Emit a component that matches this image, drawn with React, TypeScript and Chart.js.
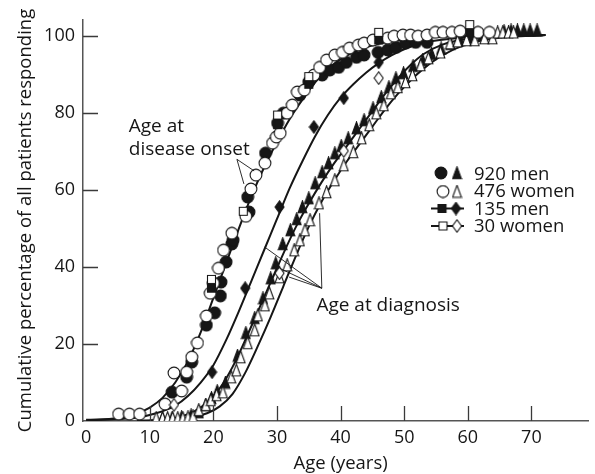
import React, { useEffect, useRef } from "react";
import { Chart, registerables } from "chart.js";

Chart.register(...registerables);

// ---------------- data ----------------
const xTickValues = [0, 10, 20, 30, 40, 50, 60, 70];
const yTickValues = [0, 20, 40, 60, 80, 100];

// Age at onset, 920 men (filled circles)
const men920Onset: [number, number][] = [
  [13.5, 7.5], [15.8, 11.4], [16.6, 15.3], [18.9, 24.9], [20.2, 28.1], [21.1, 32.5], [21.2, 36.1],
  [22.0, 41.3], [22.9, 46.0], [23.1, 47.0], [25.4, 58.2], [25.6, 54.3], [28.2, 69.6], [30.1, 77.4],
  [31.0, 80.0], [33.6, 84.7], [35.0, 88.1], [37.1, 89.9], [38.3, 91.2], [39.7, 91.9], [40.9, 93.2],
  [42.5, 94.5], [43.7, 95.1], [45.9, 95.8], [47.4, 96.4], [48.7, 97.1], [50.2, 98.2], [51.8, 98.4],
  [53.6, 98.4],
];
// Age at onset, 476 women (open circles)
const women476Onset: [number, number][] = [
  [5.1, 1.8], [6.8, 1.8], [8.4, 1.8], [12.4, 4.4], [13.8, 12.5], [15.0, 7.8], [15.8, 12.7], [16.6, 16.6],
  [17.5, 20.3], [18.9, 27.3], [19.5, 33.2], [20.0, 35.8], [20.8, 39.7], [21.6, 44.4], [22.9, 48.8],
  [25.1, 53.2], [25.9, 60.3], [26.7, 63.9], [28.1, 67.0], [29.3, 72.2], [29.9, 73.8], [30.5, 74.8],
  [31.6, 80.0], [32.4, 82.1], [33.2, 85.5], [34.3, 86.0], [35.8, 89.9], [36.7, 91.9], [37.8, 93.8],
  [39.1, 95.1], [40.3, 95.8], [41.4, 96.9], [42.8, 97.7], [43.7, 98.2], [45.1, 99.0], [47.4, 99.5],
  [48.4, 100.0], [49.8, 100.3], [51.0, 100.3], [52.2, 100.0], [53.6, 100.3], [54.9, 101.0], [56.1, 101.0],
  [57.5, 101.0], [58.8, 101.3], [61.6, 101.0], [63.4, 101.0],
];
// Age at diagnosis, 920 men (filled triangles)
const men920Diag: [number, number][] = [
  [12.0, 0.8], [13.5, 0.8], [15.0, 1.0], [16.5, 1.5], [17.7, 2.3], [18.8, 4.2], [19.7, 6.0], [20.6, 7.8],
  [21.9, 10.0], [23.8, 17.0], [25.1, 22.9], [26.5, 26.8], [27.8, 31.9], [29.0, 37.1], [29.8, 41.0],
  [30.9, 46.0], [32.1, 49.6], [33.1, 52.5], [34.0, 55.6], [35.0, 57.9], [36.0, 61.8], [37.1, 64.7],
  [38.1, 67.0], [39.1, 69.6], [40.1, 71.5], [41.2, 73.5], [42.5, 76.1], [43.7, 78.2], [45.1, 81.3],
  [46.4, 84.2], [47.6, 86.8], [48.7, 89.1], [49.9, 90.4], [51.4, 92.3], [52.9, 93.8], [54.3, 95.4],
  [55.8, 96.8], [57.3, 98.0], [58.8, 99.0], [60.5, 99.5], [62.2, 100.2], [65.7, 101.3], [66.8, 101.5],
  [67.8, 101.5], [68.8, 101.5], [69.8, 101.5], [70.9, 101.5],
];
// Age at diagnosis, 476 women (open triangles)
const women476Diag: [number, number][] = [
  [11.0, 0.8], [12.0, 0.8], [12.8, 0.8], [13.6, 0.8], [14.4, 0.8], [15.2, 0.8], [16.0, 1.0], [16.8, 1.2],
  [17.7, 2.9], [18.8, 4.2], [19.6, 5.5], [20.5, 6.8], [21.5, 7.5], [22.8, 11.4], [23.6, 13.2], [24.3, 16.6],
  [25.4, 20.3], [26.5, 23.6], [27.0, 27.5], [28.1, 30.1], [28.8, 33.2], [30.4, 37.4], [31.6, 40.5],
  [32.7, 44.4], [33.6, 47.0], [34.4, 49.6], [35.2, 52.2], [36.6, 56.6], [37.8, 59.5], [39.1, 62.6],
  [40.5, 66.5], [42.0, 69.9], [43.3, 73.5], [44.5, 76.9], [45.6, 80.0], [46.8, 82.1], [47.9, 85.2],
  [49.0, 86.8], [50.2, 88.1], [51.3, 89.9], [52.6, 92.5], [53.8, 94.3], [55.7, 95.8], [57.2, 98.2],
  [58.4, 98.7], [59.8, 99.0], [61.1, 99.0], [62.6, 99.5], [63.9, 99.5], [64.7, 101.0], [65.5, 101.0],
  [66.4, 101.0], [67.2, 101.0],
];
// 135 men: onset (filled squares) and diagnosis (filled diamonds)
const men135Onset: [number, number][] = [[19.7, 34.5], [30.1, 77.0], [35.0, 87.5], [46.0, 99.0], [60.3, 101.0]];
const men135Diag: [number, number][] = [[19.8, 12.7], [25.0, 34.5], [30.4, 55.6], [35.8, 76.4], [40.5, 83.9], [46.0, 93.2]];
// 30 women: onset (open squares) and diagnosis (open diamonds)
const women30Onset: [number, number][] = [[19.7, 36.8], [24.7, 54.5], [30.1, 79.5], [35.0, 89.5], [46.0, 101.0], [60.3, 103.0]];
const women30Diag: [number, number][] = [[13.8, 4.2], [30.4, 38.4], [40.5, 70.2], [46.0, 89.1]];

// fitted curves
const curveOnset: [number, number][] = [
  [0, 0.3], [5, 0.8], [8, 2], [10, 3.5], [12, 6], [14, 10], [16, 15.5], [18, 23], [20, 32], [22, 41],
  [24, 50], [26, 58.5], [28, 66], [30, 72.5], [32, 78.5], [34, 83.5], [36, 88], [38, 91.5], [40, 94],
  [43, 96.5], [46, 98], [50, 99.2], [55, 99.8], [72.2, 100.3],
];
const curve135Men: [number, number][] = [
  [0, 0.2], [5, 0.5], [8, 0.9], [11, 2], [14, 4], [16, 6.5], [18, 10], [20, 14.5], [22, 21], [24, 28.5],
  [26, 36.5], [28, 44.5], [30, 52.5], [32, 60.5], [34, 67.5], [36, 74], [38, 79.5], [40, 84], [42, 87.5],
  [44, 90.5], [46, 93], [48, 95], [50, 96.6], [53, 98.3], [60, 99.7], [72.2, 100.3],
];
const curveDiagMen: [number, number][] = [
  [8, 0.1], [12, 0.3], [15, 1.2], [17, 2.5], [19, 4.8], [21, 8.5], [23, 14], [25, 21], [27, 28.5],
  [29, 36], [31, 43.5], [33, 50.5], [35, 56.5], [37, 62], [39, 67], [41, 71.5], [43, 76], [45, 80.5],
  [47, 85], [49, 89], [51, 92.5], [53, 95.3], [56, 97.8], [60, 99.3], [65, 99.9], [72.2, 100.3],
];
const curveDiagWomen: [number, number][] = [
  [10, 0.1], [16, 0.8], [19, 2], [21, 3.8], [23, 7], [25, 12.5], [27, 19.5], [29, 27], [31, 35], [33, 43],
  [35, 50.5], [37, 57], [39, 62.5], [41, 67.5], [43, 72], [45, 76.5], [47, 81], [49, 85], [51, 88.5],
  [53, 91.5], [56, 95], [60, 98], [65, 99.6], [72.2, 100.3],
];

// annotation text and pointer lines (data units)
const onsetLabelLines = ["Age at", "disease onset"];
const onsetLabelAt: [number, number][] = [[6.7, 75.1], [6.7, 69.1]];
const onsetPointerFrom: [number, number] = [23.7, 68.0];
const onsetPointerTo: [number, number][] = [[24.8, 61.6], [26.4, 65.0]];
const diagLabel = "Age at diagnosis";
const diagLabelAt: [number, number] = [36.2, 28.6];
const diagPointerFrom: [number, number] = [37.05, 34.5];
const diagPointerTo: [number, number][] = [[28.06, 45.2], [30.4, 39.7], [31.9, 37.4], [36.7, 54.0]];

const xTitle = "Age (years)";
const xTitleCenter = 40;
const legendLabels = ["920 men", "476 women", "135 men", "30 women"];

// ---------------- styling ----------------
const FONT = "'Open Sans', sans-serif";
const INK = "#161616";

type Shape = "circle" | "triangle" | "square" | "diamond";
function makeMarker(shape: Shape, filled: boolean): HTMLCanvasElement {
  const c = document.createElement("canvas");
  const dims: Record<Shape, [number, number]> = {
    circle: [14, 14],
    triangle: [11, 14],
    square: [11, 11],
    diamond: [11, 14],
  };
  const [w, h] = dims[shape];
  c.width = w;
  c.height = h;
  const g = c.getContext("2d")!;
  g.lineWidth = 1.1;
  g.strokeStyle = INK;
  g.fillStyle = filled ? INK : "#ffffff";
  g.beginPath();
  if (shape === "circle") {
    g.arc(7, 7, 5.9, 0, Math.PI * 2);
  } else if (shape === "triangle") {
    g.moveTo(5.5, 0.8);
    g.lineTo(9.9, 12.8);
    g.lineTo(1.1, 12.8);
    g.closePath();
  } else if (shape === "square") {
    g.rect(1.5, 1.5, 8, 8);
  } else {
    g.moveTo(5.5, 0.8);
    g.lineTo(10, 7);
    g.lineTo(5.5, 13.2);
    g.lineTo(1, 7);
    g.closePath();
  }
  g.fill();
  g.stroke();
  return c;
}

const toXY = (arr: [number, number][]) => arr.map(([x, y]) => ({ x, y }));

export default function App() {
  const ref = useRef<HTMLCanvasElement>(null);

  useEffect(() => {
    document.body.style.margin = "0";
    const m = {
      circF: makeMarker("circle", true),
      circO: makeMarker("circle", false),
      triF: makeMarker("triangle", true),
      triO: makeMarker("triangle", false),
      sqF: makeMarker("square", true),
      sqO: makeMarker("square", false),
      diaF: makeMarker("diamond", true),
      diaO: makeMarker("diamond", false),
    };

    const pts = (label: string, data: [number, number][], style: HTMLCanvasElement) => ({
      type: "scatter" as const,
      label,
      data: toXY(data),
      pointStyle: style,
      pointRadius: 6,
      showLine: false,
    });
    const line = (label: string, data: [number, number][]) => ({
      type: "line" as const,
      label,
      data: toXY(data),
      borderColor: INK,
      borderWidth: 2,
      pointRadius: 0,
      fill: false,
      cubicInterpolationMode: "monotone" as const,
      showLine: true,
    });

    const overlay = {
      id: "overlay",
      afterDraw(chart: any) {
        const ctx = chart.ctx as CanvasRenderingContext2D;
        const xs = chart.scales.x;
        const ys = chart.scales.y;
        const ca = chart.chartArea;
        const X = (v: number) => xs.getPixelForValue(v);
        const Y = (v: number) => ys.getPixelForValue(v);
        ctx.save();
        // inward ticks
        ctx.strokeStyle = "#3a3a3a";
        ctx.lineWidth = 1.3;
        ctx.beginPath();
        xTickValues.forEach((v) => {
          if (v === 0) return;
          const px = Math.round(X(v)) + 0.5;
          ctx.moveTo(px, ca.bottom);
          ctx.lineTo(px, ca.bottom - 15);
        });
        yTickValues.forEach((v) => {
          if (v === 0) return;
          const py = Math.round(Y(v)) + 0.5;
          ctx.moveTo(ca.left, py);
          ctx.lineTo(ca.left + 15, py);
        });
        ctx.stroke();

        // pointer lines
        ctx.strokeStyle = INK;
        ctx.lineWidth = 0.9;
        ctx.beginPath();
        onsetPointerTo.forEach(([a, b]) => {
          ctx.moveTo(X(onsetPointerFrom[0]), Y(onsetPointerFrom[1]));
          ctx.lineTo(X(a), Y(b));
        });
        diagPointerTo.forEach(([a, b]) => {
          ctx.moveTo(X(diagPointerFrom[0]), Y(diagPointerFrom[1]));
          ctx.lineTo(X(a), Y(b));
        });
        ctx.stroke();

        // annotation text
        ctx.fillStyle = INK;
        ctx.font = `19px ${FONT}`;
        ctx.textAlign = "left";
        ctx.textBaseline = "alphabetic";
        onsetLabelLines.forEach((t, i) => {
          ctx.fillText(t, X(onsetLabelAt[i][0]), Y(onsetLabelAt[i][1]));
        });
        ctx.fillText(diagLabel, X(diagLabelAt[0]), Y(diagLabelAt[1]));

        // x-axis title
        ctx.font = `18.5px ${FONT}`;
        ctx.textAlign = "center";
        ctx.fillText(xTitle, X(xTitleCenter), 468.5);
        ctx.textAlign = "left";

        // legend
        const rows = [
          { y: 173, a: m.circF, b: m.triF, ax: 441, bx: 457, line: false, base: 179.5 },
          { y: 191.5, a: m.circO, b: m.triO, ax: 443, bx: 457, line: false, base: 197.3 },
          { y: 208.5, a: m.sqF, b: m.diaF, ax: 442, bx: 456, line: true, base: 215 },
          { y: 226, a: m.sqO, b: m.diaO, ax: 443, bx: 457, line: true, base: 231.7 },
        ];
        rows.forEach((r, i) => {
          if (r.line) {
            ctx.strokeStyle = INK;
            ctx.lineWidth = 2;
            ctx.beginPath();
            ctx.moveTo(431, r.y);
            ctx.lineTo(464, r.y);
            ctx.stroke();
          }
          ctx.drawImage(r.a, r.ax - r.a.width / 2, r.y - r.a.height / 2);
          ctx.drawImage(r.b, r.bx - r.b.width / 2, r.y - r.b.height / 2);
          ctx.fillText(legendLabels[i], 474, r.base);
        });
        ctx.restore();
      },
    };

    const chart = new Chart(ref.current!, {
      type: "scatter",
      data: {
        datasets: [
          pts("30 women onset", women30Onset, m.sqO),
          pts("135 men onset", men135Onset, m.sqF),
          pts("30 women diagnosis", women30Diag, m.diaO),
          pts("135 men diagnosis", men135Diag, m.diaF),
          pts("476 women onset", women476Onset, m.circO),
          pts("920 men onset", men920Onset, m.circF),
          pts("476 women diagnosis", women476Diag, m.triO),
          pts("920 men diagnosis", men920Diag, m.triF),
          line("fit onset", curveOnset),
          line("fit 135 men", curve135Men),
          line("fit diagnosis men", curveDiagMen),
          line("fit diagnosis women", curveDiagWomen),
        ] as any,
      },
      options: {
        responsive: false,
        animation: false,
        devicePixelRatio: 1,
        layout: { padding: { top: 20, right: 0, bottom: 0, left: 0 } },
        plugins: { legend: { display: false }, tooltip: { enabled: false } },
        scales: {
          x: {
            type: "linear",
            min: -0.5,
            max: 78.9,
            afterBuildTicks: (s: any) => {
              s.ticks = xTickValues.map((v) => ({ value: v }));
            },
            afterFit: (s: any) => {
              s.height = 53;
            },
            grid: { display: false, drawTicks: false },
            border: { display: true, color: "#555", width: 1.5 },
            ticks: { color: INK, padding: 6, font: { family: FONT, size: 18 }, maxRotation: 0 },
            title: { display: false },
          },
          y: {
            type: "linear",
            min: 0,
            max: 104.2,
            afterBuildTicks: (s: any) => {
              s.ticks = yTickValues.map((v) => ({ value: v }));
            },
            afterFit: (s: any) => {
              s.width = 83;
            },
            grid: { display: false, drawTicks: false },
            border: { display: true, color: "#555", width: 1.5 },
            ticks: { color: INK, padding: 8, font: { family: FONT, size: 18 } },
            title: {
              display: true,
              text: "Cumulative percentage of all patients responding",
              color: INK,
              font: { family: FONT, size: 18.5, lineHeight: 1 },
              padding: { top: 16, bottom: 0 },
            },
          },
        },
      },
      plugins: [overlay],
    } as any);
    return () => chart.destroy();
  }, []);

  return (
    <div style={{ width: 595, height: 474, position: "relative" }}>
      <canvas ref={ref} width={595} height={474} style={{ display: "block" }} />
    </div>
  );
}
